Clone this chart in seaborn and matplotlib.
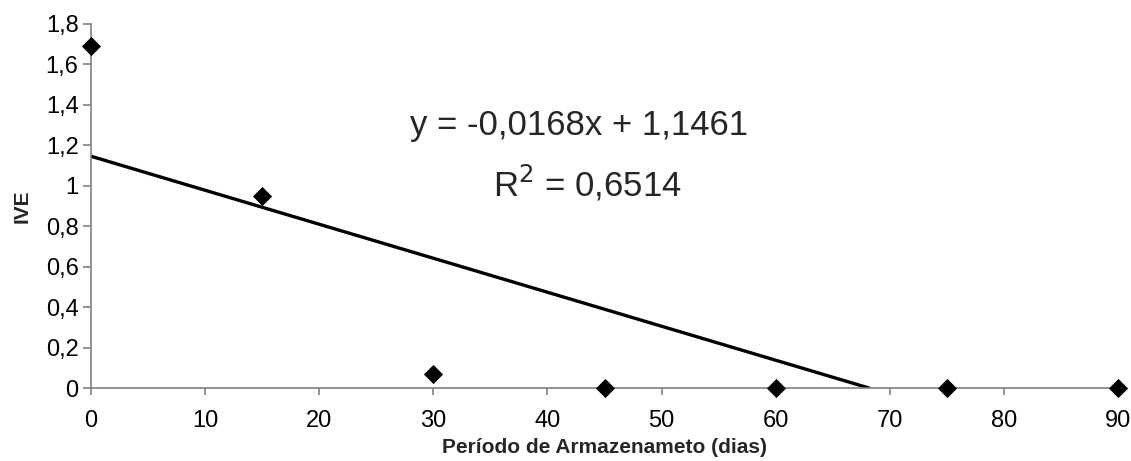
import numpy as np
import pandas as pd
import matplotlib
matplotlib.use("Agg")
import matplotlib.pyplot as plt
from matplotlib.ticker import FuncFormatter, MultipleLocator
import seaborn as sns

# dados
dias = [0, 15, 30, 45, 60, 75, 90]
ive = [1.69, 0.95, 0.07, 0.0, 0.0, 0.0, 0.0]
slope = -0.0168
intercept = 1.1461
r2 = 0.6514

sns.set_theme(style="white")
plt.rcParams['font.family'] = ['Liberation Sans', 'DejaVu Sans']
plt.rcParams['xtick.labelsize'] = 17
plt.rcParams['ytick.labelsize'] = 17

df = pd.DataFrame({'dias': dias, 'IVE': ive})

fig = plt.figure(figsize=(11.31, 4.61), dpi=100)
ax = fig.add_axes([0.0805, 0.158, 0.908, 0.79])

# linha de tendência
x_fit = np.array([0.0, -intercept / slope])
sns.lineplot(x=x_fit, y=intercept + slope * x_fit, color='black', linewidth=2.4, ax=ax)

sns.scatterplot(data=df, x='dias', y='IVE', marker='D', s=95, color='black',
                edgecolor='black', linewidth=0, ax=ax, clip_on=False, zorder=5)

ax.set_xlim(0, 90)
ax.set_ylim(0, 1.8)
ax.xaxis.set_major_locator(MultipleLocator(10))
ax.yaxis.set_major_locator(MultipleLocator(0.2))

fmt = FuncFormatter(lambda v, p: f"{v:.10g}".replace('.', ','))
ax.yaxis.set_major_formatter(fmt)
ax.xaxis.set_major_formatter(fmt)

for s in ['top', 'right']:
    ax.spines[s].set_visible(False)
for s in ['left', 'bottom']:
    ax.spines[s].set_color('#808080')
    ax.spines[s].set_linewidth(1.2)

ax.tick_params(axis='both', which='major', direction='out', length=6, width=1.2,
               color='#808080', labelsize=17, labelcolor='black', pad=3,
               bottom=True, left=True)
ax.tick_params(axis='x', length=5, pad=11)

ax.set_xlabel('Período de Armazenameto (dias)', fontsize=15, fontweight='bold', labelpad=4)
ax.set_ylabel('IVE', fontsize=15, fontweight='bold', labelpad=10)

eq = f"y = {slope:.4f}x + {intercept:.4f}".replace('.', ',')
ax.text(42.8, 1.30, eq, fontsize=25, ha='center', va='center')
ax.text(43.5, 1.01, f"R$^2$ = {r2:.4f}".replace('.', ','), fontsize=25,
        ha='center', va='center')

fig.savefig('out.png', dpi=100)
